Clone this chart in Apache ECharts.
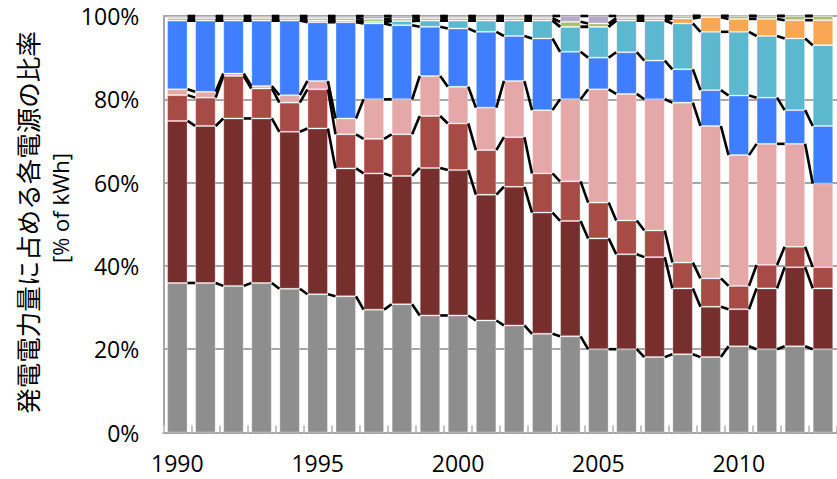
<!DOCTYPE html>
<html>
<head>
<meta charset="utf-8">
<script src="https://cdn.jsdelivr.net/npm/echarts@6/dist/echarts.min.js"></script>
<style>
html,body{margin:0;padding:0;background:#fff;}
#chart{width:837px;height:479px;}
</style>
</head>
<body>
<div id="chart"></div>
<script>
// ---- data (percent of kWh) ----
const years = ['1990','1991','1992','1993','1994','1995','1996','1997','1998','1999','2000','2001','2002','2003','2004','2005','2006','2007','2008','2009','2010','2011','2012','2013'];
const nuclear = [35.9,35.9,35.2,35.9,34.5,33.2,32.7,29.5,30.8,28.1,28.1,26.9,25.7,23.7,23.1,20.0,20.0,18.1,18.8,18.1,20.7,20.0,20.7,20.0];
const coal    = [38.9,37.7,40.2,39.5,37.7,39.8,30.7,32.7,30.8,35.4,34.9,30.2,33.3,29.1,27.7,26.6,22.8,24.0,15.8,12.1,8.9,14.6,19.0,14.6];
const oil     = [6.2,6.8,10.2,7.2,7.0,9.4,8.2,8.3,10.0,12.5,11.2,10.7,11.9,9.4,9.5,8.6,8.1,6.4,6.2,6.8,5.6,5.6,4.9,5.1];
const gas     = [1.4,1.4,0.6,0.6,1.8,2.0,3.8,9.5,8.4,9.6,8.8,10.2,13.5,15.2,19.7,27.2,30.4,31.5,38.4,36.6,31.4,29.1,24.7,20.1];
const hydro   = [16.5,17.1,12.7,15.7,17.9,14.1,23.1,18.2,17.8,11.8,14.0,18.2,10.8,17.2,11.4,7.6,10.0,9.3,8.0,8.6,14.3,11.1,8.1,13.8];
const wind    = [0,0,0,0,0,0.4,0.4,0.4,1.0,1.5,1.9,2.7,3.7,4.3,6.0,7.4,7.6,9.6,11.0,14.0,15.3,14.8,17.2,19.4];
const solar   = [0,0,0,0,0,0,0,0,0,0,0,0,0,0,0,0,0,0,1.2,3.5,3.1,4.1,4.4,6.0];
const biomass = [0.6,0.6,0.6,0.6,0.6,0.6,0.6,0.7,0.6,0.6,0.6,0.6,0.6,0.6,1.2,0.8,0.6,0.6,0.6,0.3,0.7,0.7,1.0,1.0];
const other   = [0.5,0.5,0.5,0.5,0.5,0.5,0.5,0.7,0.6,0.5,0.5,0.5,0.5,0.5,1.4,1.8,0.5,0.5,0,0,0,0,0,0];
const yTicks  = [0,20,40,60,80,100];

const seriesNames = ['原子力','石炭','石油','天然ガス','水力','風力','太陽光','バイオマス','その他'];
const seriesData  = [nuclear,coal,oil,gas,hydro,wind,solar,biomass,other];
const colors = ['#8e8e8e','#772f2e','#a64b45','#e3a8a7','#3f7fff','#5bb8cf','#f9a655','#a6c26b','#b5a8c8'];

const BAR_W = 20.5;

// cumulative boundaries per year
const cum = years.map((_, i) => {
  let s = 0; const out = [];
  seriesData.forEach(arr => { s += arr[i]; out.push(s); });
  return out;
});
const lineData = [];
for (let i = 0; i < years.length - 1; i++) {
  lineData.push([i].concat(cum[i], cum[i + 1]));
}
const nB = seriesData.length;

const barSeries = seriesData.map((arr, k) => ({
  name: seriesNames[k],
  type: 'bar',
  stack: 'total',
  barWidth: BAR_W,
  data: arr,
  itemStyle: { color: colors[k], borderColor: 'rgba(255,255,255,0.3)', borderWidth: 1 },
  emphasis: { disabled: true },
  z: 2
}));

const linesSeries = {
  type: 'custom',
  data: lineData,
  encode: { x: 0, y: 1 },
  z: 5,
  silent: true,
  renderItem: function (params, api) {
    const i = api.value(0);
    const half = BAR_W / 2;
    const children = [];
    for (let k = 0; k < nB; k++) {
      const p1 = api.coord([i, api.value(1 + k)]);
      const p2 = api.coord([i + 1, api.value(1 + nB + k)]);
      children.push({
        type: 'line',
        shape: { x1: p1[0] + half, y1: p1[1], x2: p2[0] - half, y2: p2[1] },
        style: { stroke: '#000', lineWidth: 2.6 }
      });
    }
    return { type: 'group', children: children };
  }
};

const chart = echarts.init(document.getElementById('chart'), null, { renderer: 'svg' });
chart.setOption({
  animation: false,
  backgroundColor: '#fff',
  grid: { left: 163.3, top: 16, width: 687.6, height: 416.5, containLabel: false },
  xAxis: {
    type: 'category',
    data: years,
    axisLine: { lineStyle: { color: '#a6a6a6', width: 2 } },
    axisTick: { show: true, inside: true, length: 7, interval: 0, lineStyle: { color: '#c4c4c4', width: 2 } },
    axisLabel: { interval: 4, color: '#000', fontSize: 23, fontFamily: 'Open Sans', margin: 19 },
    splitLine: { show: false }
  },
  yAxis: {
    type: 'value',
    min: yTicks[0],
    max: yTicks[yTicks.length - 1],
    interval: 20,
    axisLine: { show: true, lineStyle: { color: '#a6a6a6', width: 2 } },
    axisTick: { show: false },
    axisLabel: { formatter: '{value}%', color: '#000', fontSize: 23, fontFamily: 'Open Sans', margin: 24, padding: [6, 0, 0, 0] },
    splitLine: { show: true, lineStyle: { color: '#a6a6a6', width: 2 } }
  },
  graphic: [
    {
      type: 'text', x: 26.5, y: 222.5, rotation: Math.PI / 2,
      style: { text: '発電電力量に占める各電源の比率', fontSize: 25.5, fontFamily: 'Noto Sans CJK JP', fill: '#000', align: 'center', verticalAlign: 'middle' }
    },
    {
      type: 'text', x: 60, y: 208, rotation: Math.PI / 2,
      style: { text: '[% of kWh]', fontSize: 22, fontFamily: 'Open Sans', fill: '#000', align: 'center', verticalAlign: 'middle' }
    }
  ],
  series: barSeries.concat([linesSeries])
});
</script>
</body>
</html>
